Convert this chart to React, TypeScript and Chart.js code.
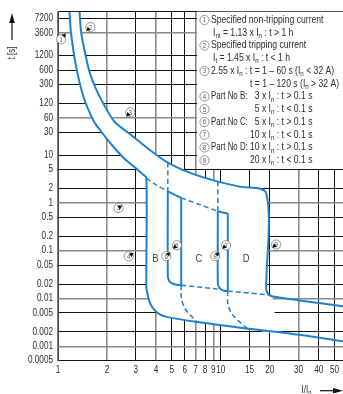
import React, { useEffect, useRef } from 'react';
import { Chart, registerables } from 'chart.js';

Chart.register(...registerables);

type P = [number, number];

// ---- axes ----
const xTicks = [1, 2, 3, 4, 5, 6, 7, 8, 9, 10, 15, 20, 30, 40, 50];
const xTickLabels = ['1', '2', '3', '4', '5', '6', '7', '8', '9', '10', '15', '20', '30', '40', '50'];
const yTicks = [0.0005, 0.001, 0.002, 0.005, 0.01, 0.02, 0.05, 0.1, 0.2, 0.5, 1, 2, 5, 10, 30, 60, 120, 300, 600, 1200, 3600, 7200, 10000];
const yTickLabels = ['0.0005', '0.001', '0.002', '0.005', '0.01', '0.02', '0.05', '0.1', '0.2', '0.5', '1', '2', '5', '10', '30', '60', '120', '300', '600', '1200', '3600', '7200', ''];
const xStrongTicks = [2, 4, 7, 9, 30];
const yStrongTicks = [3600, 60, 1, 0.1, 0.01, 0.001];

// ---- curves (I/In, t[s]) ----
const lowerThermal: P[] = [[1.177, 10000], [1.202, 3590], [1.29, 735], [1.434, 166], [1.652, 52.3], [1.824, 32.3], [2.162, 15.7], [2.562, 8.41], [3.035, 5.2], [3.304, 4.0], [3.49, 3.3]];
const bLowerMagnetic: P[] = [[3.49, 3.3], [3.49, 0.0171], [3.561, 0.0116], [3.673, 0.0081], [3.861, 0.00607], [4.173, 0.00477], [4.64, 0.00413], [7.398, 0.00317], [15.01, 0.00232], [30.44, 0.00174], [56.3, 0.00127]];
const upperThermal: P[] = [[1.356, 10000], [1.388, 3590], [1.475, 1247], [1.561, 551], [1.699, 255], [1.904, 118], [2.224, 49.8], [2.75, 28], [3.648, 12.96], [4.726, 6.94], [6.424, 4.29], [9.585, 2.785], [13.03, 2.19], [19.0, 1.6]];
const dUpperTrip: P[] = [[19.0, 1.6], [19.0, 0.0162], [19.22, 0.0137], [19.77, 0.0119], [20.78, 0.01106], [56.3, 0.0069]];
const bandClose: P[] = [[21, 0.0021]];

const lowerThermalToC: P[] = [[3.49, 3.3], [4.03, 2.35], [4.726, 1.747]];
const cTop: P[] = [[4.726, 1.747], [5.711, 1.272]];
const lowerThermalToD: P[] = [[5.711, 1.272], [7.4, 0.922], [9.585, 0.668]];
const dTop: P[] = [[9.585, 0.668], [11.04, 0.598]];

const bTripUpper: P[] = [[4.726, 6.94], [4.726, 1.747]];
const bTrip: P[] = [[4.726, 1.747], [4.726, 0.0304], [4.806, 0.0239], [5.013, 0.0207], [5.345, 0.0194], [5.711, 0.019]];
const bTripBottom: P[] = [[5.711, 0.019], [10.0, 0.0155]];
const cNonTrip: P[] = [[5.711, 1.272], [5.711, 0.019]];
const cNonTripBottom: P[] = [[5.711, 0.019], [5.72, 0.0104], [5.98, 0.0064], [6.42, 0.0047], [7.19, 0.0032]];
const cTripUpper: P[] = [[9.585, 2.785], [9.585, 0.668]];
const cTrip: P[] = [[9.585, 0.668], [9.585, 0.0217], [9.72, 0.0175], [10.03, 0.0155], [10.46, 0.01455], [11.04, 0.01427]];
const cTripBottom: P[] = [[11.04, 0.01427], [19.77, 0.0119]];
const dNonTrip: P[] = [[11.04, 0.598], [11.04, 0.01427]];
const dNonTripBottom: P[] = [[11.04, 0.01427], [11.04, 0.0078], [11.68, 0.0048], [12.72, 0.0035], [14.59, 0.00235]];

// ---- annotations ----
const markerNums = ['1', '2', '3', '3', '4', '5', '6', '7', '8', '9'];
const markerAt: P[] = [[1.046, 2650], [1.583, 4750], [2.777, 78], [2.353, 0.786], [2.722, 0.0768], [5.366, 0.13], [4.62, 0.0768], [10.79, 0.13], [9.24, 0.0768], [21.89, 0.1347]];
const markerTip: P[] = [[1.12, 3550], [1.49, 3900], [2.62, 64], [2.48, 0.88], [2.92, 0.09], [5.07, 0.11], [4.91, 0.093], [10.2, 0.11], [9.82, 0.093], [20.69, 0.115]];
const regionNames = ['B', 'C', 'D'];
const regionAt: P[] = [[3.97, 0.068], [7.33, 0.068], [14.32, 0.068]];

const legendNums = ['1', '', '2', '', '3', '', '4', '5', '6', '7', '8', '9'];
const legendLabels = ['Specified non-tripping current', 'I{nt} = 1.13 x I{n} : t > 1 h', 'Specified tripping current', 'I{t} = 1.45 x I{n} : t < 1 h', '2.55 x I{n} : t = 1 – 60 s (I{n} < 32 A)', '', 'Part No B:', '', 'Part No C:', '', 'Part No D:', ''];
const legendValues = ['', '', '', '', '', 't = 1 – 120 s (I{n} > 32 A)', '3 x I{n} : t > 0.1 s', '5 x I{n} : t < 0.1 s', '5 x I{n} : t > 0.1 s', '10 x I{n} : t < 0.1 s', '10 x I{n} : t > 0.1 s', '20 x I{n} : t < 0.1 s'];

const yTitle = 't [s]';
const xTitle = 'I/I{n}';

// ---- style ----
const FONT = "'Liberation Sans', Arial, sans-serif";
const SX = 0.82; // horizontal condensing
const BLUE = '#1f80cd';
const TEXT = '#2b2b2b';

function toXY(pts: P[]) {
  return pts.map(([x, y]) => ({ x, y }));
}

function parts(text: string) {
  return text.split(/(\{[^}]*\})/).filter((s) => s.length > 0).map((p) =>
    p.startsWith('{') ? { s: p.slice(1, -1), sub: true } : { s: p, sub: false });
}

function richWidth(ctx: CanvasRenderingContext2D, text: string, size: number, sx: number) {
  let w = 0;
  for (const p of parts(text)) {
    ctx.font = `${p.sub ? size * 0.72 : size}px ${FONT}`;
    w += ctx.measureText(p.s).width * sx;
  }
  return w;
}

function drawRich(ctx: CanvasRenderingContext2D, text: string, x: number, y: number, size: number, align: 'left' | 'right' | 'center' = 'left', sx: number = SX) {
  const w = richWidth(ctx, text, size, sx);
  let cx = align === 'right' ? x - w : align === 'center' ? x - w / 2 : x;
  ctx.textAlign = 'left';
  ctx.textBaseline = 'middle';
  for (const p of parts(text)) {
    const fs = p.sub ? size * 0.72 : size;
    ctx.font = `${fs}px ${FONT}`;
    ctx.save();
    ctx.translate(cx, p.sub ? y + size * 0.3 : y);
    ctx.scale(sx, 1);
    ctx.fillText(p.s, 0, 0);
    ctx.restore();
    cx += ctx.measureText(p.s).width * sx;
  }
  return cx;
}

function drawCircled(ctx: CanvasRenderingContext2D, label: string, cx: number, cy: number) {
  ctx.beginPath();
  ctx.arc(cx, cy, 4.6, 0, Math.PI * 2);
  ctx.fillStyle = '#ffffff';
  ctx.fill();
  ctx.lineWidth = 0.8;
  ctx.strokeStyle = '#7a7a7a';
  ctx.stroke();
  ctx.fillStyle = '#555555';
  drawRich(ctx, label, cx, cy + 0.4, 7.5, 'center');
}

function drawTip(ctx: CanvasRenderingContext2D, cx: number, cy: number, tx: number, ty: number) {
  const dx = tx - cx;
  const dy = ty - cy;
  const len = Math.hypot(dx, dy) || 1;
  const ux = dx / len;
  const uy = dy / len;
  const bx = tx - ux * 4.2;
  const by = ty - uy * 4.2;
  const nx = -uy;
  const ny = ux;
  ctx.beginPath();
  ctx.moveTo(tx, ty);
  ctx.lineTo(bx + nx * 2.3, by + ny * 2.3);
  ctx.lineTo(bx - nx * 2.3, by - ny * 2.3);
  ctx.closePath();
  ctx.fillStyle = '#111111';
  ctx.fill();
}

const annotatePlugin = {
  id: 'annotate',
  afterDatasetsDraw(chart: any) {
    const { ctx, chartArea } = chart;
    const xs = chart.scales.x;
    const ys = chart.scales.y;
    ctx.save();
    // markers
    markerNums.forEach((n, i) => {
      const cx = xs.getPixelForValue(markerAt[i][0]);
      const cy = ys.getPixelForValue(markerAt[i][1]);
      const tx = xs.getPixelForValue(markerTip[i][0]);
      const ty = ys.getPixelForValue(markerTip[i][1]);
      drawCircled(ctx, n, cx, cy);
      drawTip(ctx, cx, cy, tx, ty);
    });
    // region names
    ctx.fillStyle = '#444444';
    regionNames.forEach((n, i) => {
      drawRich(ctx, n, xs.getPixelForValue(regionAt[i][0]), ys.getPixelForValue(regionAt[i][1]), 11.5, 'center');
    });
    // legend box
    const boxL = Math.round(xs.getPixelForValue(7)) + 1;
    const boxB = Math.round(ys.getPixelForValue(5));
    ctx.fillStyle = '#ffffff';
    ctx.fillRect(boxL, chartArea.top, chartArea.right - boxL, boxB - chartArea.top);
    const size = 10.5;
    legendNums.forEach((n, i) => {
      const y = chartArea.top + 8.3 + i * 12.75;
      if (n) drawCircled(ctx, n, 204.5, y);
      ctx.fillStyle = TEXT;
      const label = legendLabels[i];
      const val = legendValues[i];
      if (label) drawRich(ctx, label, n ? 211 : 213, y, size, 'left', val ? 0.75 : SX);
      if (val) {
        if (!n && !label) {
          drawRich(ctx, val, 250, y, size);
        } else {
          const sp = val.indexOf(' ');
          drawRich(ctx, val.slice(0, sp), 259.5, y, size, 'right');
          drawRich(ctx, val.slice(sp), 259.5, y, size);
        }
      }
    });
    ctx.restore();
  },
  afterDraw(chart: any) {
    const { ctx, chartArea } = chart;
    const xs = chart.scales.x;
    const ys = chart.scales.y;
    ctx.save();
    // tick labels
    ctx.fillStyle = TEXT;
    xTicks.forEach((v, i) => {
      drawRich(ctx, xTickLabels[i], xs.getPixelForValue(v), chartArea.bottom + 9.5, 10, 'center');
    });
    yTicks.forEach((v, i) => {
      if (yTickLabels[i]) drawRich(ctx, yTickLabels[i], chartArea.left - 5, ys.getPixelForValue(v), 10, 'right');
    });
    // y title with arrow
    ctx.fillStyle = '#111111';
    ctx.strokeStyle = '#111111';
    ctx.lineWidth = 1.2;
    ctx.beginPath();
    ctx.moveTo(12, 40);
    ctx.lineTo(12, 20);
    ctx.stroke();
    ctx.beginPath();
    ctx.moveTo(12, 13);
    ctx.lineTo(14.8, 23);
    ctx.lineTo(9.2, 23);
    ctx.closePath();
    ctx.fill();
    ctx.save();
    ctx.translate(12, 53);
    ctx.rotate(-Math.PI / 2);
    ctx.fillStyle = TEXT;
    drawRich(ctx, yTitle, 0, 0, 10, 'center');
    ctx.restore();
    // x title with arrow
    ctx.fillStyle = TEXT;
    drawRich(ctx, xTitle, 301.5, 390.5, 10);
    ctx.fillStyle = '#111111';
    ctx.beginPath();
    ctx.moveTo(320, 390.7);
    ctx.lineTo(336, 390.7);
    ctx.stroke();
    ctx.beginPath();
    ctx.moveTo(343, 390.7);
    ctx.lineTo(333, 387.9);
    ctx.lineTo(333, 393.5);
    ctx.closePath();
    ctx.fill();
    ctx.restore();
  },
};

export default function App() {
  const ref = useRef<HTMLCanvasElement>(null);

  useEffect(() => {
    const canvas = ref.current;
    if (!canvas) return;

    const solid = (pts: P[]) => ({
      data: toXY(pts),
      borderColor: BLUE,
      borderWidth: 2,
      pointRadius: 0,
      tension: 0.3,
      fill: false,
      order: 1,
    });
    const dashed = (pts: P[]) => ({ ...solid(pts), borderWidth: 1.5, borderDash: [5, 3] });

    const bandPolygon: P[] = [
      ...lowerThermal,
      ...bLowerMagnetic.slice(1, 9),
      ...bandClose,
      ...dUpperTrip.slice(0, 5).reverse(),
      ...upperThermal.slice().reverse().slice(1),
    ];

    const chart = new Chart(canvas, {
      type: 'line',
      data: {
        datasets: [
          {
            data: toXY(bandPolygon),
            borderWidth: 0,
            borderColor: 'rgba(0,0,0,0)',
            backgroundColor: '#ffffff',
            fill: 'shape',
            pointRadius: 0,
            tension: 0.3,
            order: 10,
          } as any,
          solid([...lowerThermal, ...bLowerMagnetic.slice(1)]),
          solid([...upperThermal, ...dUpperTrip.slice(1)]),
          dashed(lowerThermalToC),
          solid(cTop),
          dashed(lowerThermalToD),
          solid(dTop),
          dashed(bTripUpper),
          solid(bTrip),
          dashed(bTripBottom),
          solid(cNonTrip),
          dashed(cNonTripBottom),
          dashed(cTripUpper),
          solid(cTrip),
          dashed(cTripBottom),
          solid(dNonTrip),
          dashed(dNonTripBottom),
        ],
      },
      options: {
        animation: false,
        responsive: false,
        events: [],
        layout: { padding: { top: 11.7, left: 0, right: 0, bottom: 0 } },
        plugins: {
          legend: { display: false },
          tooltip: { enabled: false },
        },
        scales: {
          x: {
            type: 'logarithmic',
            min: 1,
            max: 56.3,
            afterBuildTicks: (scale: any) => {
              scale.ticks = xTicks.map((v) => ({ value: v }));
            },
            afterFit: (scale: any) => {
              scale.height = 33.3;
            },
            grid: {
              drawTicks: false,
              color: (c: any) => (c.tick && xStrongTicks.includes(c.tick.value) ? '#8a8a8a' : '#111111'),
              lineWidth: (c: any) => (c.tick && xStrongTicks.includes(c.tick.value) ? 1.6 : 1),
            },
            border: { color: '#111111', width: 1 },
            ticks: { display: false, autoSkip: false },
          },
          y: {
            type: 'logarithmic',
            min: 0.0005,
            max: 10000,
            afterBuildTicks: (scale: any) => {
              scale.ticks = yTicks.map((v) => ({ value: v }));
            },
            afterFit: (scale: any) => {
              scale.width = 58;
            },
            grid: {
              drawTicks: false,
              color: (c: any) => (c.tick && yStrongTicks.includes(c.tick.value) ? '#8a8a8a' : '#111111'),
              lineWidth: (c: any) => (c.tick && yStrongTicks.includes(c.tick.value) ? 1.6 : 1),
            },
            border: { color: '#7a7a7a', width: 1.5 },
            ticks: { display: false, autoSkip: false },
          },
        },
      } as any,
      plugins: [annotatePlugin],
    });

    return () => {
      chart.destroy();
    };
  }, []);

  return (
    <div style={{ position: 'absolute', left: 0, top: 0, width: 343, height: 394, background: '#ffffff' }}>
      <canvas ref={ref} width={343} height={394} style={{ display: 'block', width: 343, height: 394 }} />
    </div>
  );
}
